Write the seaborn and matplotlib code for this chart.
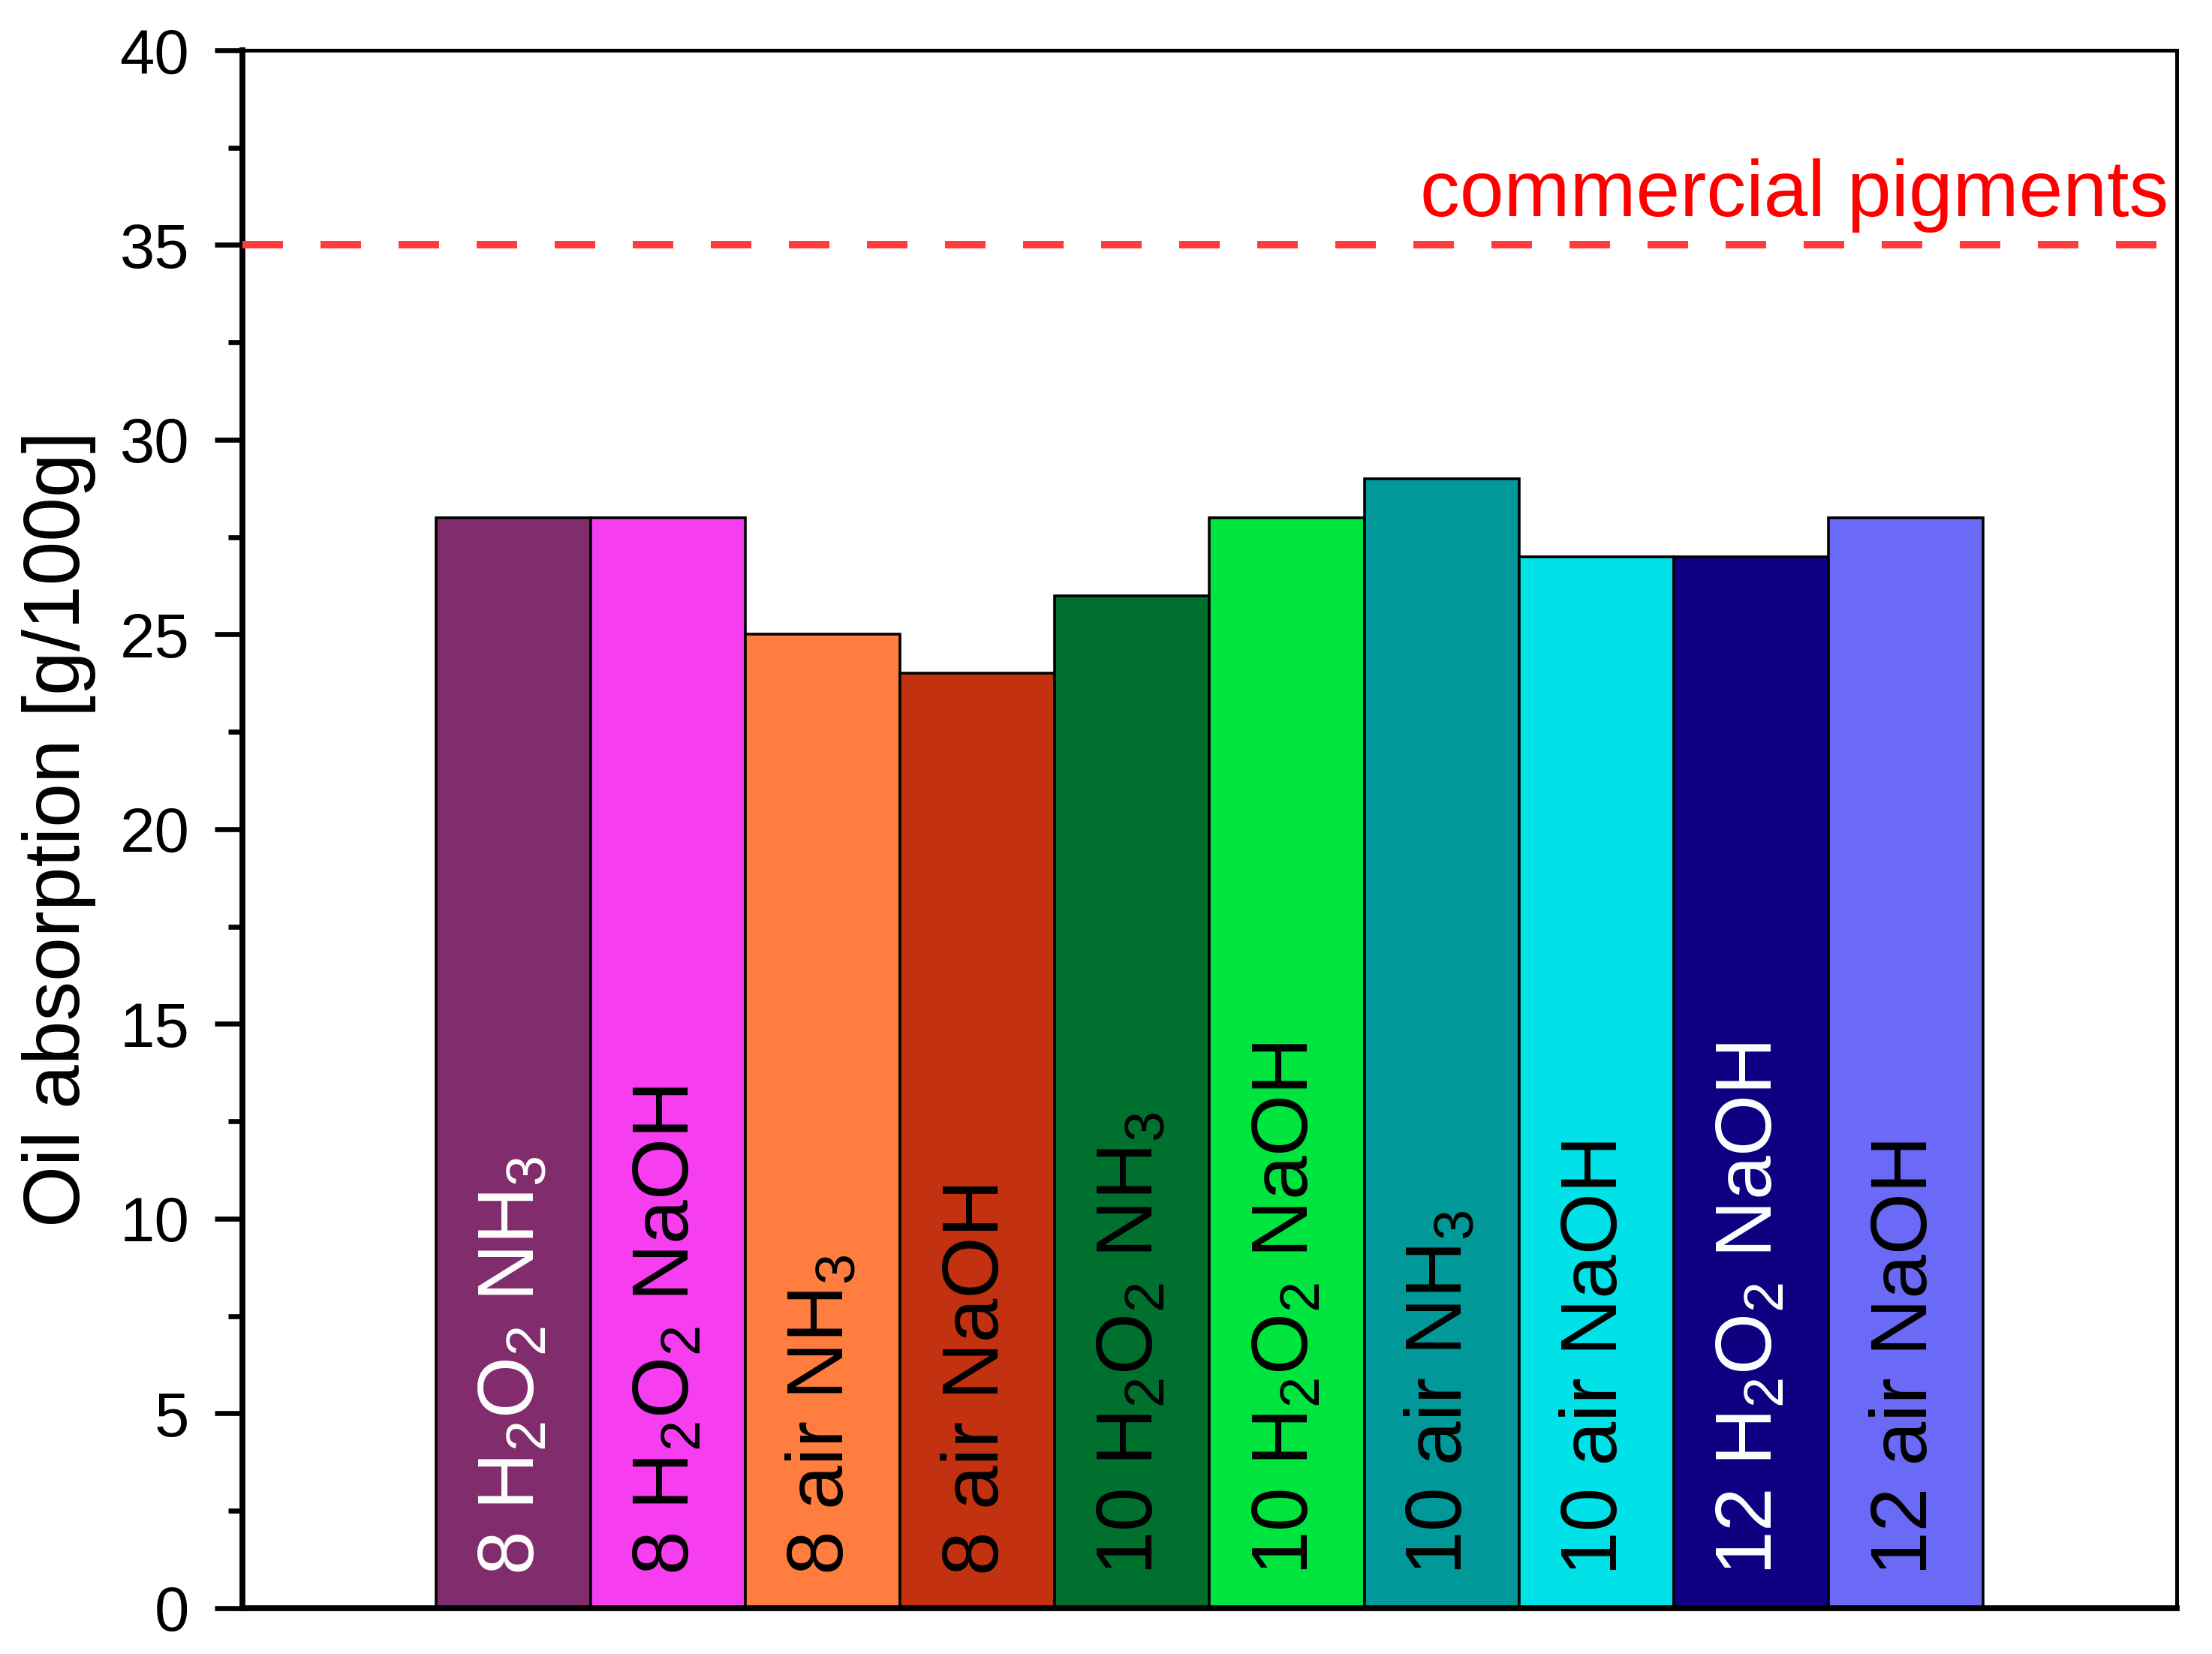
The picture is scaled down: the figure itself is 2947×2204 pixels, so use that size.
import numpy as np
import pandas as pd
import matplotlib
matplotlib.use("Agg")
import matplotlib.pyplot as plt
import seaborn as sns

# --- DATA ---
labels = [r"8 H$_2$O$_2$ NH$_3$", r"8 H$_2$O$_2$ NaOH", r"8 air NH$_3$", "8 air NaOH",
          r"10 H$_2$O$_2$ NH$_3$", r"10 H$_2$O$_2$ NaOH", r"10 air NH$_3$", "10 air NaOH",
          r"12 H$_2$O$_2$ NaOH", "12 air NaOH"]
values = [28, 28, 25, 24, 26, 28, 29, 27, 27, 28]
colors = ["#812C6D", "#F63EF0", "#FF7D3E", "#C23210", "#00702F",
          "#00E440", "#009898", "#00E2E8", "#0E0080", "#6A6AF6"]
text_colors = ["white", "black", "black", "black", "black",
               "black", "black", "black", "white", "black"]
commercial = 35
yticks = [0, 5, 10, 15, 20, 25, 30, 35, 40]

df = pd.DataFrame({"sample": labels, "oil": values})

sns.set_style("white")
plt.rcParams["font.family"] = ["Liberation Sans", "DejaVu Sans"]
plt.rcParams["mathtext.fontset"] = "custom"
plt.rcParams["mathtext.rm"] = "Liberation Sans"
plt.rcParams["mathtext.it"] = "Liberation Sans:italic"
plt.rcParams["mathtext.bf"] = "Liberation Sans:bold"
plt.rcParams["text.color"] = "black"
plt.rcParams["axes.labelcolor"] = "black"

fig = plt.figure(figsize=(14.735, 11.02), dpi=200)
ax = fig.add_axes([0.1096, 0.0277, 0.984 - 0.1096, 0.9696 - 0.0277])

sns.barplot(data=df, x="sample", y="oil", hue="sample", palette=colors,
            legend=False, width=1.0, edgecolor="black", linewidth=1.3,
            saturation=1, ax=ax)

for i, (lab, tc) in enumerate(zip(labels, text_colors)):
    ax.text(i, 0.85, lab, rotation=90, ha="center", va="bottom",
            color=tc, fontsize=38)

ax.axhline(commercial, color="#FF3B3B", lw=3.6, ls=(0, (5.4, 5.0)), zorder=3)
ax.text(0.996, commercial + 0.75, "commercial pigments", color="#FF0000",
        fontsize=38, ha="right", va="baseline", transform=ax.get_yaxis_transform())

ax.set_xlim(-1.75, len(labels) - 1 + 1.75)
ax.set_ylim(0, 40)
ax.set_yticks(yticks)
ax.set_yticks(np.arange(2.5, 40, 5), minor=True)
ax.set_xticks([])
ax.set_xlabel("")
ax.set_ylabel("Oil absorption [g/100g]", fontsize=38, color="black")
ax.yaxis.set_label_coords(-0.0757, 0.5)

ax.tick_params(axis="y", which="major", direction="out", length=13.5, width=2.4,
               labelsize=30, pad=12, left=True, colors="black")
ax.tick_params(axis="y", which="minor", direction="out", length=7, width=2.4,
               left=True, colors="black")

for side in ["left", "bottom"]:
    ax.spines[side].set_linewidth(2.8)
for side in ["top", "right"]:
    ax.spines[side].set_linewidth(1.8)
for s in ax.spines.values():
    s.set_color("black")
    s.set_visible(True)

fig.savefig("out.png", dpi=200)
